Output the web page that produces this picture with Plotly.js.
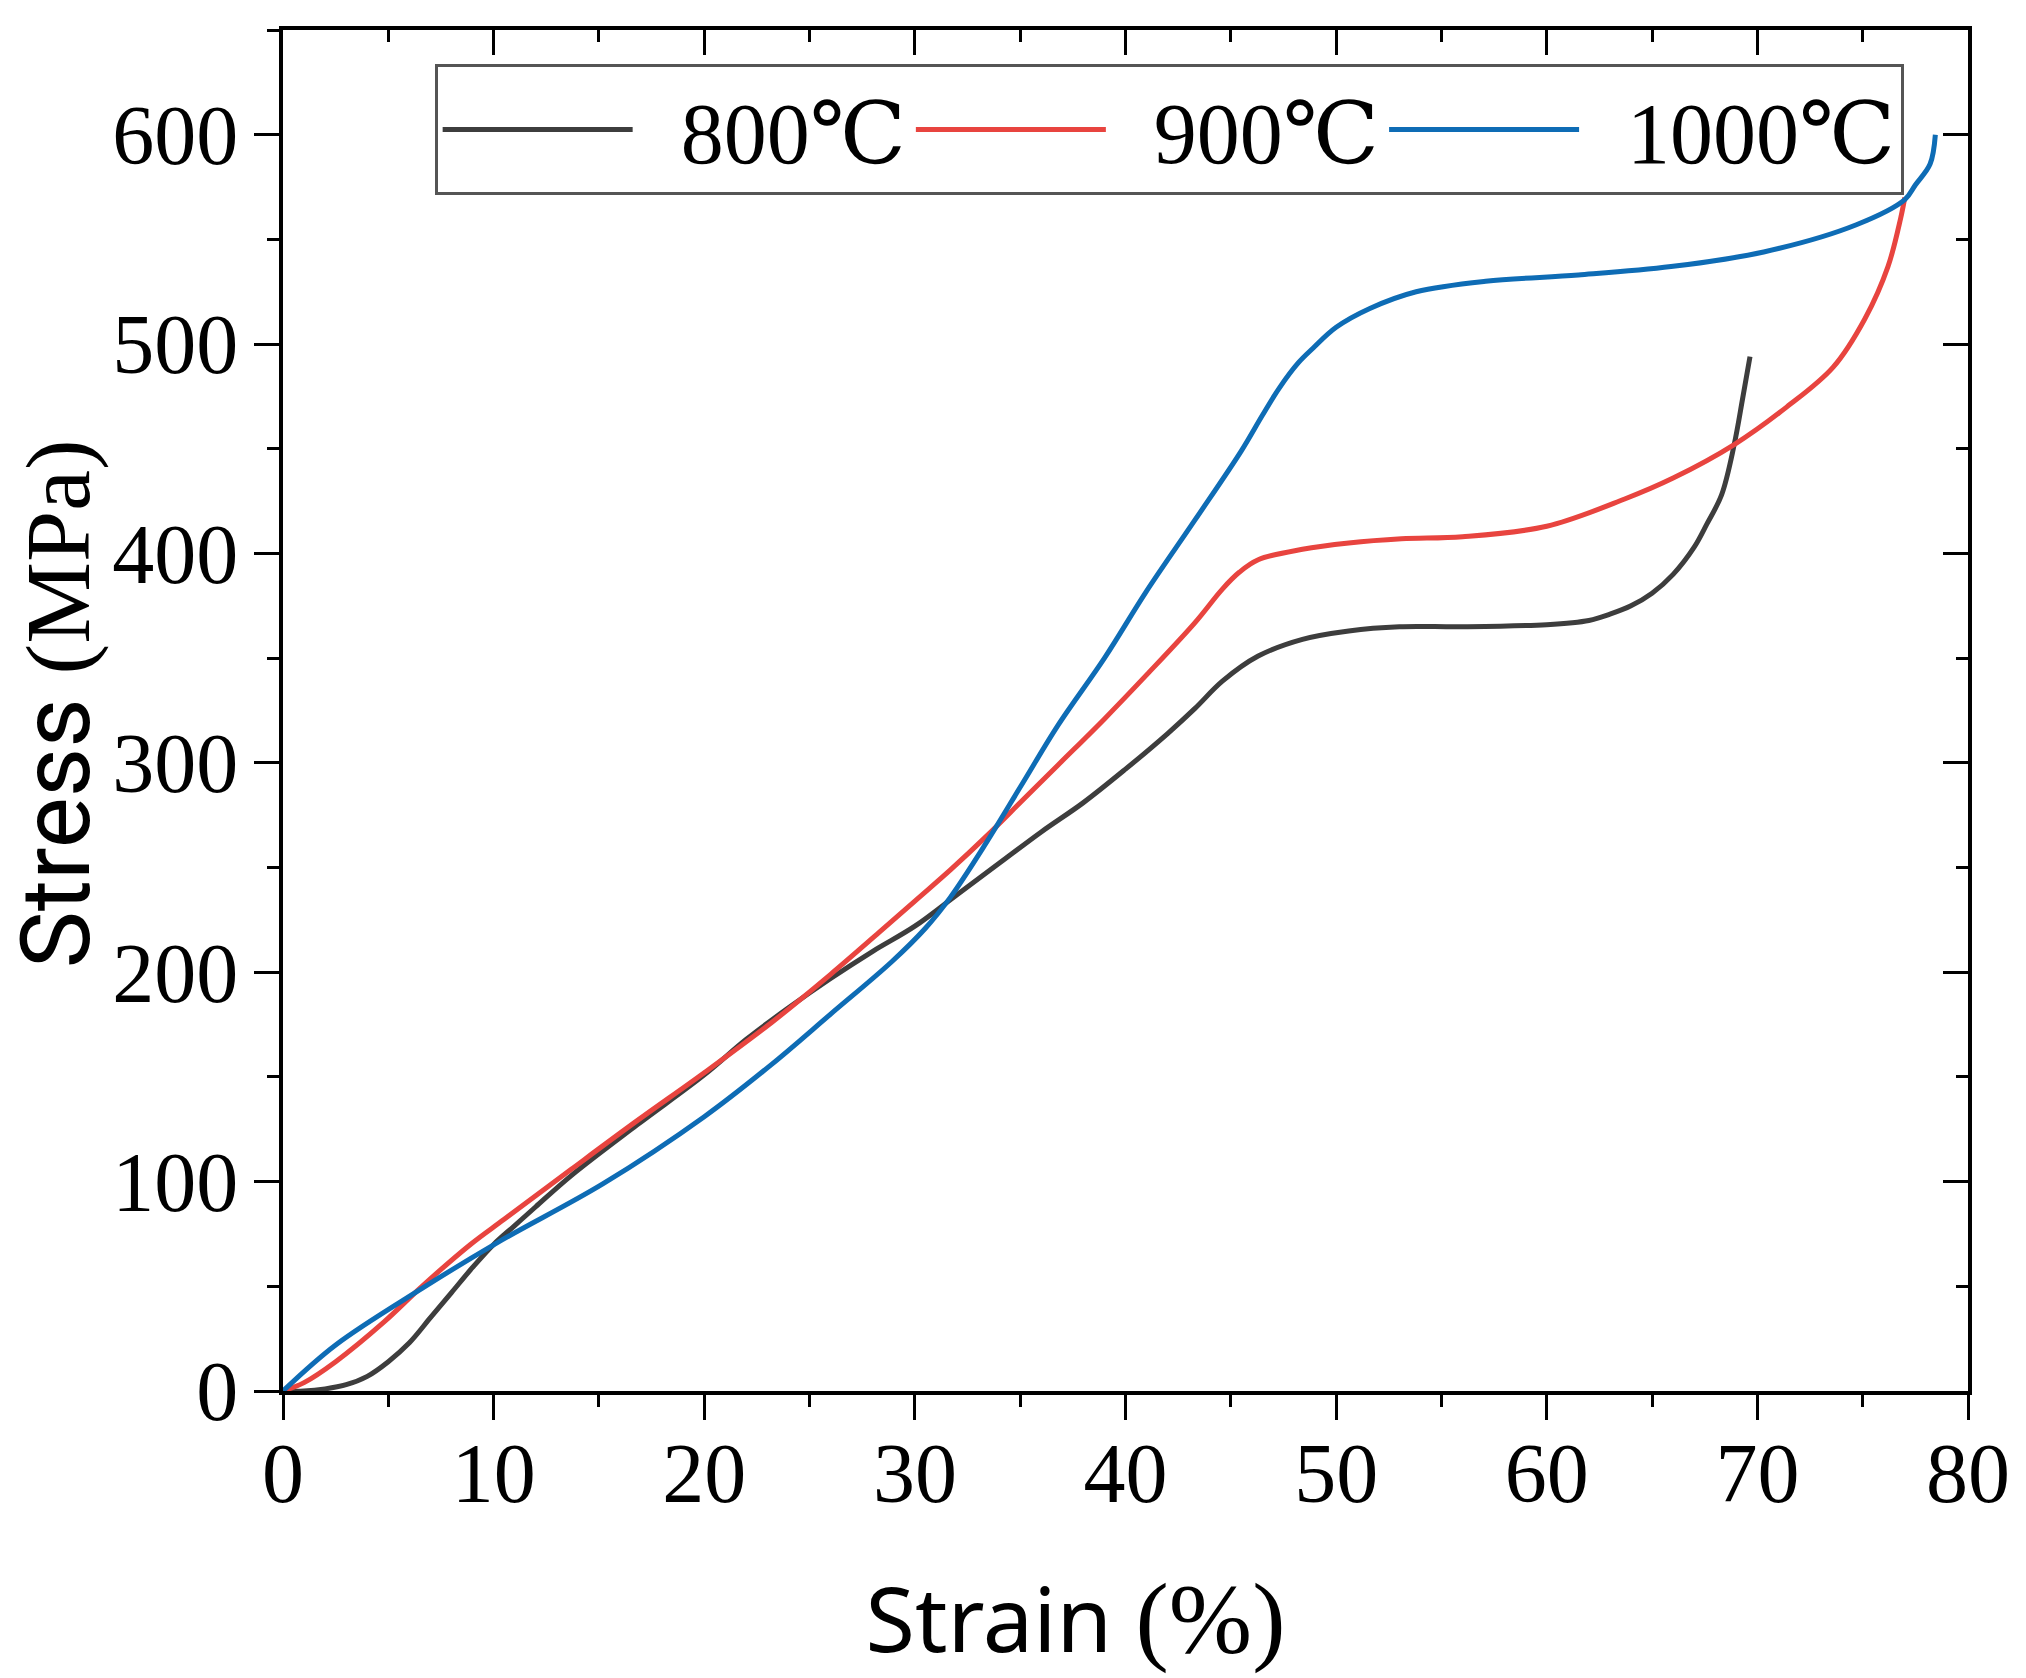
<!DOCTYPE html>
<html>
<head>
<meta charset="utf-8">
<script src="https://cdn.plot.ly/plotly-3.0.1.min.js"></script>
<style>
  html, body { margin: 0; padding: 0; background: #ffffff; }
  #chart { width: 2026px; height: 1678px; }
</style>
</head>
<body>
<div id="chart"></div>
<script>
// ---- data ----
const seriesNames = ['800℃', '900℃', '1000℃'];

const strain800 = [0, 1, 2, 3, 4, 5, 6, 7, 8, 9, 10, 11, 12, 13.7, 16.8, 20, 22, 24, 26, 28, 30, 32, 34, 36, 38, 40, 42, 43.3, 44.6, 46.3, 48.4, 50.6, 53, 56, 60, 62, 63, 64, 65, 66, 67, 67.6, 68.3, 68.9, 69.3, 69.65];
const stress800 = [0, 0, 1, 3, 7, 14, 23, 35, 47, 59, 70, 79, 88, 103, 127, 151, 168, 183, 197, 210, 222, 237, 252, 267, 281, 297, 314, 326, 339, 351, 359, 363, 365, 365, 366, 368, 371, 375, 381, 390, 403, 414, 428, 452, 474, 494];

const strain900 = [0, 1, 2.5, 4.8, 6.6, 8.9, 10.5, 13.7, 16.8, 20, 23.2, 26, 28.3, 30, 31.7, 33.4, 35.1, 36.8, 39, 41, 43.3, 44.6, 45.4, 46.3, 48.4, 50.6, 53.1, 56, 60, 63.7, 66, 68.9, 71.4, 73.6, 75.1, 76.2, 76.8, 77];
const stress900 = [0, 4, 14, 33, 50, 70, 82, 106, 129, 152, 176, 199, 219, 234, 249, 265, 282, 299, 321, 342, 367, 383, 391, 397, 402, 405, 407, 408, 413, 426, 436, 452, 470, 489, 512, 537, 560, 570];

const strain1000 = [0, 2.5, 6.6, 10.2, 15.2, 20, 23.2, 26, 28.9, 30.5, 31.7, 33.4, 35.1, 36.8, 39, 41, 43.3, 45.5, 46.5, 47.3, 48.2, 48.9, 50, 51.6, 53.8, 57.1, 61.5, 65.9, 70.3, 74.7, 77, 77.5, 78.2, 78.45];
const stress1000 = [0, 22, 49, 71, 99, 131, 156, 180, 205, 221, 236, 262, 290, 318, 350, 382, 416, 449, 466, 479, 491, 498, 508, 517, 525, 530, 533, 537, 544, 557, 569, 576, 586, 600];

const xTickVals = [0, 10, 20, 30, 40, 50, 60, 70, 80];
const yTickVals = [0, 100, 200, 300, 400, 500, 600];

const colors = ['#3d3d3d', '#e8443f', '#0e6cb5'];

// ---- traces ----
const serif = 'Liberation Serif, DejaVu Serif, serif';
const sans = 'Noto Sans, Open Sans, sans-serif';
const sansY = 'Roboto, Noto Sans, sans-serif';
const nb = '\u00a0';

const mk = (x, y, name, color) => ({
  x: x, y: y, name: nb + nb + name, type: 'scatter', mode: 'lines',
  line: { color: color, width: 5, shape: 'spline', smoothing: 1 }
});

const traces = [
  mk(strain800, stress800, seriesNames[0], colors[0]),
  mk(strain900, stress900, seriesNames[1], colors[1]),
  mk(strain1000, stress1000, seriesNames[2], colors[2]),
  // mirror frame axes (top / right) with inward ticks
  { x: [], y: [], xaxis: 'x2', yaxis: 'y2', type: 'scatter', mode: 'lines', showlegend: false, hoverinfo: 'skip' }
];

const axisCommon = {
  showgrid: false, zeroline: false,
  showline: true, linecolor: '#000', linewidth: 4,
  tickcolor: '#000', tickwidth: 3
};

const layout = {
  width: 2026, height: 1678,
  paper_bgcolor: '#ffffff', plot_bgcolor: '#ffffff',
  margin: { l: 283, r: 58, t: 30, b: 287 },
  showlegend: true,
  xaxis: Object.assign({}, axisCommon, {
    range: [0, 80], tickmode: 'array', tickvals: xTickVals,
    ticks: 'outside', ticklen: 25,
    minor: { ticks: 'outside', dtick: 5, ticklen: 12, tickwidth: 3, tickcolor: '#000' },
    tickfont: { family: serif, size: 84, color: '#000' },
    ticklabelstandoff: -19,
    title: { text: 'Strain <span style="font-family:Liberation Serif,DejaVu Serif,serif;font-size:100px">(%)' + nb + nb + nb + nb + '</span>',
             font: { family: sans, size: 90, color: '#000' }, standoff: 80 },
    automargin: false
  }),
  yaxis: Object.assign({}, axisCommon, {
    range: [0, 650], tickmode: 'array', tickvals: yTickVals,
    ticks: 'outside', ticklen: 25,
    minor: { ticks: 'outside', dtick: 50, ticklen: 12, tickwidth: 3, tickcolor: '#000' },
    tickfont: { family: serif, size: 84, color: '#000' },
    ticklabelstandoff: -1,
    title: { text: '<span style="font-size:54px">' + nb + '</span>Stress <span style="font-family:Liberation Serif,DejaVu Serif,serif;font-size:92px">(MPa)</span>',
             font: { family: sansY, size: 96, color: '#000' }, standoff: 26 },
    automargin: false
  }),
  xaxis2: Object.assign({}, axisCommon, {
    overlaying: 'x', side: 'top', anchor: 'y2', range: [0, 80],
    tickmode: 'array', tickvals: xTickVals, ticks: 'inside', ticklen: 25,
    minor: { ticks: 'inside', dtick: 5, ticklen: 12, tickwidth: 3, tickcolor: '#000' },
    showticklabels: false
  }),
  yaxis2: Object.assign({}, axisCommon, {
    overlaying: 'y', side: 'right', anchor: 'x2', range: [0, 650],
    tickmode: 'array', tickvals: yTickVals, ticks: 'inside', ticklen: 25,
    minor: { ticks: 'inside', dtick: 50, ticklen: 12, tickwidth: 3, tickcolor: '#000' },
    showticklabels: false
  }),
  legend: {
    orientation: 'h', x: 0.09, y: 0.975, xanchor: 'left', yanchor: 'top',
    bgcolor: '#ffffff', bordercolor: '#555555', borderwidth: 3,
    font: { family: serif, size: 86, color: '#000' },
    itemwidth: 190, itemclick: false
  }
};

Plotly.newPlot('chart', traces, layout, { staticPlot: true, displayModeBar: false });
</script>
</body>
</html>
